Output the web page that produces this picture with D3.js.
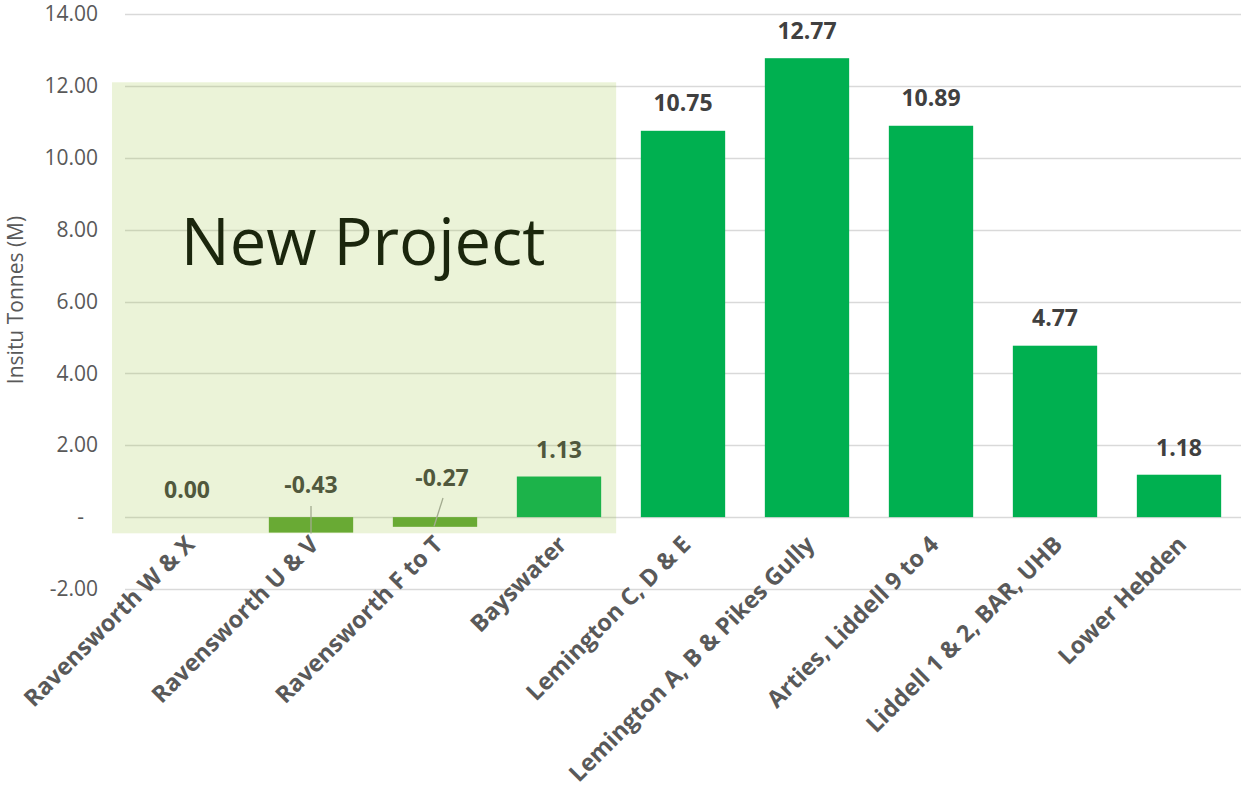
<!DOCTYPE html>
<html>
<head>
<meta charset="utf-8">
<script src="https://cdn.jsdelivr.net/npm/d3@7"></script>
<style>
  html, body { margin: 0; padding: 0; background: #ffffff; }
  svg { display: block; }
</style>
</head>
<body>
<svg id="chart" width="1243" height="792"></svg>
<script>
// Categories (mining areas) and insitu tonnes, millions
const categories = [
  "Ravensworth W & X",
  "Ravensworth U & V",
  "Ravensworth F to T",
  "Bayswater",
  "Lemington C, D & E",
  "Lemington A, B & Pikes Gully",
  "Arties, Liddell 9 to 4",
  "Liddell 1 & 2, BAR, UHB",
  "Lower Hebden"
];
const tonnes = [0.00, -0.43, -0.27, 1.13, 10.75, 12.77, 10.89, 4.77, 1.18];
const yTicks = [-2, 0, 2, 4, 6, 8, 10, 12, 14];
const yTitle = "Insitu Tonnes (M)";
const projectLabel = "New Project";
const projectCount = 4; // first four areas belong to the new project

const svg = d3.select("#chart");

const x = d3.scaleBand()
  .domain(categories)
  .range([125, 1241])
  .paddingInner(0.32)
  .paddingOuter(0.16);

const y = d3.scaleLinear()
  .domain([-2, 14])
  .range([589, 14]);

const fontFamily = "'Open Sans', 'Liberation Sans', sans-serif";
// two decimals with a plain hyphen for negatives
const fmt = d => d3.format(".2f")(d).replace("\u2212", "-");

// gridlines
svg.append("g")
  .selectAll("line")
  .data(yTicks)
  .join("line")
  .attr("x1", x.range()[0])
  .attr("x2", x.range()[1])
  .attr("y1", d => Math.round(y(d)) + 0.5)
  .attr("y2", d => Math.round(y(d)) + 0.5)
  .attr("stroke", "#d9d9d9")
  .attr("stroke-width", 1.3);

// y axis labels
const yAxis = d3.axisLeft(y)
  .tickValues(yTicks)
  .tickSize(0)
  .tickPadding(0)
  .tickFormat(d => d === 0 ? "-" : fmt(d));

const yg = svg.append("g")
  .attr("transform", "translate(98,0)")
  .call(yAxis);
yg.select(".domain").remove();
yg.selectAll("text")
  .attr("font-family", fontFamily)
  .attr("font-size", 21)
  .attr("fill", "#595959");
yg.selectAll(".tick").filter(d => d === 0).select("text")
  .attr("dx", -14);

// y axis title
svg.append("text")
  .attr("transform", "translate(23,300) rotate(-90)")
  .attr("text-anchor", "middle")
  .attr("font-family", fontFamily)
  .attr("font-size", 21)
  .attr("fill", "#595959")
  .text(yTitle);

// bars
const barColor = d => (d < 0 ? "#5fa535" : "#00b050");
svg.append("g")
  .selectAll("rect")
  .data(tonnes)
  .join("rect")
  .attr("x", (d, i) => x(categories[i]))
  .attr("width", x.bandwidth())
  .attr("y", d => y(Math.max(0, d)))
  .attr("height", d => Math.abs(y(d) - y(0)))
  .attr("fill", barColor);

// value labels; the small values inside the project area were nudged by hand
const labelNudge = [
  { dx: 0, baseline: 0.00, lift: 19 },
  { dx: 0, baseline: 0.00, lift: 24 },
  { dx: 7, baseline: 0.00, lift: 31 },
  { dx: 0, baseline: null, lift: 19 },
  { dx: 0, baseline: null, lift: 20 },
  { dx: 0, baseline: null, lift: 19 },
  { dx: 0, baseline: null, lift: 20 },
  { dx: 0, baseline: null, lift: 20 },
  { dx: 0, baseline: null, lift: 19 }
];

// leader lines for the two moved labels
const leaders = [
  { i: 1, fromDx: 0, toDx: 0, fromY: 506, toValue: -0.43 * 0.6 - 0.2 },
  { i: 2, fromDx: 8, toDx: -1, fromY: 498, toValue: -0.27 * 0.6 - 0.1 }
];
svg.append("g")
  .selectAll("line")
  .data(leaders)
  .join("line")
  .attr("x1", d => x(categories[d.i]) + x.bandwidth() / 2 + d.fromDx)
  .attr("x2", d => x(categories[d.i]) + x.bandwidth() / 2 + d.toDx)
  .attr("y1", d => d.fromY)
  .attr("y2", d => y(d.toValue))
  .attr("stroke", "#a6a6a6")
  .attr("stroke-width", 1.3);

svg.append("g")
  .selectAll("text")
  .data(tonnes)
  .join("text")
  .attr("x", (d, i) => x(categories[i]) + x.bandwidth() / 2 + labelNudge[i].dx)
  .attr("y", (d, i) => {
    const top = labelNudge[i].baseline !== null ? y(labelNudge[i].baseline) : y(Math.max(0, d));
    return top - labelNudge[i].lift;
  })
  .attr("text-anchor", "middle")
  .attr("font-family", fontFamily)
  .attr("font-weight", 700)
  .attr("font-size", 23)
  .attr("fill", "#404040")
  .text(d => fmt(d));

// x axis category labels, rotated
svg.append("g")
  .selectAll("text")
  .data(categories)
  .join("text")
  .attr("transform", d => `translate(${x(d) + x.bandwidth() / 2 + 9},546) rotate(-45)`)
  .attr("text-anchor", "end")
  .attr("font-family", fontFamily)
  .attr("font-weight", 700)
  .attr("font-size", 23.5)
  .attr("fill", "#595959")
  .text(d => d);

// translucent panel marking the new project areas
const panelLeft = x.range()[0] - 13;
const panelRight = x(categories[projectCount - 1]) + x.bandwidth() + 15;
const panelTop = y(12.1);
const panelBottom = y(-0.45);
svg.append("rect")
  .attr("x", panelLeft)
  .attr("y", panelTop)
  .attr("width", panelRight - panelLeft)
  .attr("height", panelBottom - panelTop)
  .attr("fill", "rgb(151,192,49)")
  .attr("fill-opacity", 0.19);

svg.append("text")
  .attr("x", (panelLeft + panelRight) / 2 - 1)
  .attr("y", 265)
  .attr("text-anchor", "middle")
  .attr("font-family", fontFamily)
  .attr("font-size", 65)
  .attr("fill", "#1b260d")
  .text(projectLabel);
</script>
</body>
</html>
